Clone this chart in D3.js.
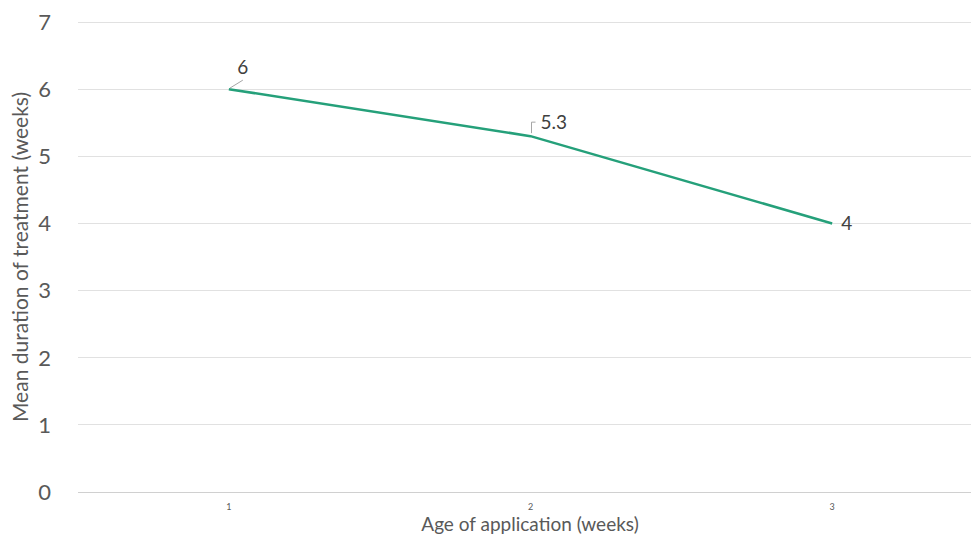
<!DOCTYPE html>
<html>
<head>
<meta charset="utf-8">
<script src="https://cdn.jsdelivr.net/npm/d3@7"></script>
<style>
  html, body { margin: 0; padding: 0; background: #fff; }
  svg { display: block; font-family: Lato, "Open Sans", sans-serif; }
</style>
</head>
<body>
<svg id="chart" width="971" height="539"></svg>
<script>
// Mean duration of treatment by age of application
const categories = ["1", "2", "3"];
const values = [6, 5.3, 4];
const dataLabels = ["6", "5.3", "4"];
const yTicks = [0, 1, 2, 3, 4, 5, 6, 7];

const svg = d3.select("#chart");
const plotLeft = 78, plotRight = 983, plotTop = 22, plotBottom = 492;

const x = d3.scalePoint().domain(categories).range([plotLeft, plotRight]).padding(0.5);
const y = d3.scaleLinear().domain([0, 7]).range([plotBottom, plotTop]);

// horizontal gridlines
svg.append("g").selectAll("line").data(yTicks).join("line")
  .attr("x1", plotLeft).attr("x2", plotRight)
  .attr("y1", d => y(d)).attr("y2", d => y(d))
  .attr("stroke", d => d === 0 ? "#d0d0d0" : "#e1e1e1").attr("stroke-width", 1)
  .attr("shape-rendering", "crispEdges");

// y tick labels
svg.append("g").selectAll("text").data(yTicks).join("text")
  .attr("x", 51).attr("y", d => y(d)).attr("dy", "0.36em")
  .attr("text-anchor", "end").attr("fill", "#595959").attr("font-size", 22)
  .text(d => d);

// x tick labels
svg.append("g").selectAll("text").data(categories).join("text")
  .attr("x", d => x(d)).attr("y", 510)
  .attr("text-anchor", "middle").attr("fill", "#595959").attr("font-size", 9)
  .text(d => d);

// axis titles
svg.append("text")
  .attr("x", 530).attr("y", 531)
  .attr("text-anchor", "middle").attr("fill", "#595959").attr("font-size", 19)
  .text("Age of application (weeks)");

svg.append("text")
  .attr("transform", `translate(28, 257) rotate(-90)`)
  .attr("text-anchor", "middle").attr("fill", "#595959").attr("font-size", 21)
  .text("Mean duration of treatment (weeks)");

// series line
const pts = categories.map((c, i) => ({ c, v: values[i], label: dataLabels[i] }));
svg.append("path").datum(pts)
  .attr("fill", "none").attr("stroke", "#25a07a").attr("stroke-width", 2.5)
  .attr("stroke-linejoin", "round")
  .attr("d", d3.line().x(d => x(d.c)).y(d => y(d.v)));

// data labels with leader lines
const lab = svg.append("g");
// point 1: diagonal leader
{
  const px = x(pts[0].c), py = y(pts[0].v);
  lab.append("line").attr("x1", px + 1).attr("y1", py - 1).attr("x2", px + 14).attr("y2", py - 9)
    .attr("stroke", "#a6a6a6").attr("stroke-width", 1);
  lab.append("text").attr("x", px + 14).attr("y", py - 15).attr("text-anchor", "middle")
    .attr("fill", "#404040").attr("font-size", 19).text(pts[0].label);
}
// point 2: elbow leader
{
  const px = x(pts[1].c), py = y(pts[1].v);
  lab.append("path").attr("d", `M${px + 1},${py - 3}V${py - 14}H${px + 5}`)
    .attr("fill", "none").attr("stroke", "#a6a6a6").attr("stroke-width", 1);
  lab.append("text").attr("x", px + 10).attr("y", py - 7).attr("text-anchor", "start")
    .attr("fill", "#404040").attr("font-size", 19).text(pts[1].label);
}
// point 3: label to the right
{
  const px = x(pts[2].c), py = y(pts[2].v);
  lab.append("text").attr("x", px + 9).attr("y", py).attr("dy", "0.36em").attr("text-anchor", "start")
    .attr("fill", "#404040").attr("font-size", 19).text(pts[2].label);
}
</script>
</body>
</html>
